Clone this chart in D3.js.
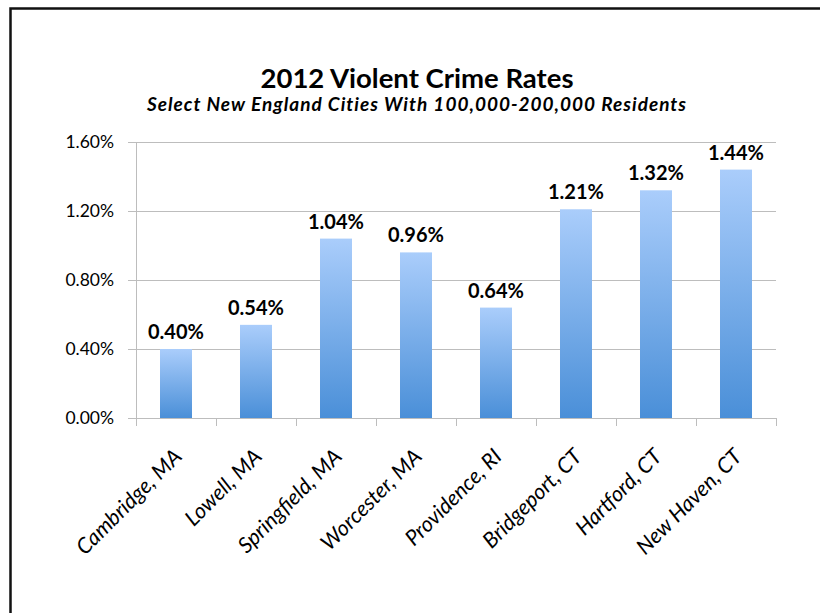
<!DOCTYPE html>
<html>
<head>
<meta charset="utf-8">
<script src="https://cdn.jsdelivr.net/npm/d3@7"></script>
<style>
  html, body { margin: 0; padding: 0; background: #fff; overflow: hidden; }
  svg { display: block; }
  text { font-family: Lato, "Open Sans", sans-serif; fill: #000; }
</style>
</head>
<body>
<div id="chart"></div>
<script>
const cities = ['Cambridge, MA', 'Lowell, MA', 'Springfield, MA', 'Worcester, MA',
  'Providence, RI', 'Bridgeport, CT', 'Hartford, CT', 'New Haven, CT'];
const rates = [0.40, 0.54, 1.04, 0.96, 0.64, 1.21, 1.32, 1.44];
const yTicks = [0, 0.4, 0.8, 1.2, 1.6];
const title = '2012 Violent Crime Rates';
const subtitle = 'Select New England Cities With 100,000-200,000 Residents';

const width = 820, height = 613;
const m = { top: 142, right: 44, bottom: 195, left: 136 };

const svg = d3.select('#chart').append('svg')
  .attr('width', width).attr('height', height);

// frame: only the left and top edges fall inside the picture
svg.append('path').attr('d', `M10.5,${height} V8.5 H${width}`)
  .attr('fill', 'none').attr('stroke', '#111').attr('stroke-width', 2.5);

const x = d3.scaleBand().domain(cities).range([m.left, width - m.right]).paddingInner(0.6).paddingOuter(0.3);
const y = d3.scaleLinear().domain([0, 1.6]).range([height - m.bottom, m.top]);

const grad = svg.append('defs').append('linearGradient').attr('id', 'bar-grad')
  .attr('x1', 0).attr('x2', 0).attr('y1', 0).attr('y2', 1);
grad.append('stop').attr('offset', '0%').attr('stop-color', '#aacdfb');
grad.append('stop').attr('offset', '100%').attr('stop-color', '#4a8fd8');

// y axis + grid
const yAxis = d3.axisLeft(y).tickValues(yTicks).tickSize(8).tickPadding(14)
  .tickFormat(d => d.toFixed(2) + '%');
const gy = svg.append('g').attr('transform', `translate(${m.left},0)`).call(yAxis);
gy.select('.domain').attr('stroke', '#bdbdbd');
gy.selectAll('.tick line').attr('stroke', '#bdbdbd');
gy.selectAll('.tick text').attr('font-size', 17.5).attr('fill', '#000');
svg.append('g').selectAll('line').data(yTicks.filter(d => d > 0)).join('line')
  .attr('x1', m.left).attr('x2', width - m.right)
  .attr('y1', d => Math.round(y(d)) + 0.5).attr('y2', d => Math.round(y(d)) + 0.5)
  .attr('stroke', '#bdbdbd');

// bars
svg.append('g').selectAll('rect').data(rates).join('rect')
  .attr('x', (d, i) => x(cities[i]))
  .attr('y', d => y(d))
  .attr('width', x.bandwidth())
  .attr('height', d => y(0) - y(d))
  .attr('fill', 'url(#bar-grad)');

// x axis
const step = x.step();
const edges = d3.range(cities.length + 1).map(i => m.left + i * step);
svg.append('line').attr('x1', m.left).attr('x2', width - m.right)
  .attr('y1', y(0) + 0.5).attr('y2', y(0) + 0.5).attr('stroke', '#bdbdbd');
svg.append('g').selectAll('line').data(edges).join('line')
  .attr('x1', d => Math.round(d) + 0.5).attr('x2', d => Math.round(d) + 0.5)
  .attr('y1', y(0)).attr('y2', y(0) + 8).attr('stroke', '#bdbdbd');

svg.append('g').selectAll('text').data(cities).join('text')
  .attr('transform', d => `translate(${x(d) + x.bandwidth() / 2 + 7},${y(0) + 40}) rotate(-45)`)
  .attr('text-anchor', 'end')
  .attr('font-size', 21.5).attr('font-style', 'italic')
  .text(d => d);

// data labels
svg.append('g').selectAll('text').data(rates).join('text')
  .attr('x', (d, i) => x(cities[i]) + x.bandwidth() / 2)
  .attr('y', d => y(d) - 10)
  .attr('text-anchor', 'middle')
  .attr('font-size', 20).attr('font-weight', 'bold')
  .text(d => d.toFixed(2) + '%');

// titles
svg.append('text').attr('x', 417).attr('y', 88).attr('text-anchor', 'middle')
  .attr('font-size', 27.5).attr('font-weight', 'bold').text(title);
svg.append('text').attr('x', 417).attr('y', 111).attr('text-anchor', 'middle')
  .attr('font-size', 19).attr('font-weight', 'bold').attr('font-style', 'italic')
  .attr('letter-spacing', 1).text(subtitle);
</script>
</body>
</html>
